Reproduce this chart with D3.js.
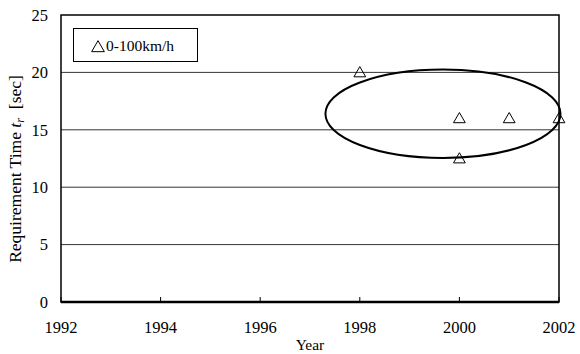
<!DOCTYPE html>
<html>
<head>
<meta charset="utf-8">
<script src="https://cdn.jsdelivr.net/npm/d3@7"></script>
<style>
  body { margin: 0; background: #fff; }
  text { font-family: "Liberation Serif", "Times New Roman", serif; fill: #000; }
</style>
</head>
<body>
<div id="chart"></div>
<script>
// data
const years = [1998, 2000, 2001, 2002, 2000];
const times = [20, 16, 16, 16, 12.5];
const xTicks = [1992, 1994, 1996, 1998, 2000, 2002];
const yTicks = [0, 5, 10, 15, 20, 25];
const legendLabel = "0-100km/h";
// highlighted group (ellipse): center year, center value, half-width in years, half-height in sec
const ellipse = [1999.67, 16.4, 2.36, 3.85];

const width = 580, height = 354;
const margin = { left: 61, right: 21, top: 15, bottom: 52 };

const svg = d3.select("#chart").append("svg")
  .attr("width", width)
  .attr("height", height);

const x = d3.scaleLinear().domain([1992, 2002]).range([margin.left, width - margin.right]);
const y = d3.scaleLinear().domain([0, 25]).range([height - margin.bottom, margin.top]);

// gridlines
svg.append("g")
  .selectAll("line")
  .data(yTicks.filter(d => d > 0 && d < 25))
  .join("line")
  .attr("x1", x(1992)).attr("x2", x(2002))
  .attr("y1", d => y(d)).attr("y2", d => y(d))
  .attr("stroke", "#000")
  .attr("stroke-width", 0.8);

// frame
svg.append("rect")
  .attr("x", x(1992)).attr("y", y(25))
  .attr("width", x(2002) - x(1992))
  .attr("height", y(0) - y(25))
  .attr("fill", "none")
  .attr("stroke", "#000")
  .attr("stroke-width", 1.5);
svg.append("line")
  .attr("x1", x(1992)).attr("x2", x(2002))
  .attr("y1", y(0)).attr("y2", y(0))
  .attr("stroke", "#000").attr("stroke-width", 2.5);

// x axis ticks (inside)
svg.append("g")
  .selectAll("line")
  .data(xTicks)
  .join("line")
  .attr("x1", d => x(d)).attr("x2", d => x(d))
  .attr("y1", y(0)).attr("y2", y(0) - 5)
  .attr("stroke", "#000");

svg.append("g")
  .selectAll("text")
  .data(xTicks)
  .join("text")
  .attr("x", d => x(d))
  .attr("y", y(0) + 31)
  .attr("text-anchor", "middle")
  .attr("font-size", 16.5)
  .text(d => d);

// y axis labels
svg.append("g")
  .selectAll("text")
  .data(yTicks)
  .join("text")
  .attr("x", x(1992) - 13)
  .attr("y", d => y(d))
  .attr("dy", "0.35em")
  .attr("text-anchor", "end")
  .attr("font-size", 16.5)
  .text(d => d);

// axis titles
svg.append("text")
  .attr("x", (x(1992) + x(2002)) / 2)
  .attr("y", height - 4)
  .attr("text-anchor", "middle")
  .attr("font-size", 15.5)
  .text("Year");

const yt = svg.append("text")
  .attr("transform", `translate(21,169) rotate(-90)`)
  .attr("text-anchor", "middle")
  .attr("font-size", 17.5);
yt.append("tspan").text("Requirement Time ");
yt.append("tspan").attr("font-style", "italic").text("t");
yt.append("tspan").attr("font-style", "italic").attr("font-size", 12).attr("dy", 3).text("r");
yt.append("tspan").attr("dy", -3).attr("dx", 9).text("[sec]");

// ellipse
svg.append("ellipse")
  .attr("cx", x(ellipse[0]))
  .attr("cy", y(ellipse[1]))
  .attr("rx", x(1992 + ellipse[2]) - x(1992))
  .attr("ry", y(0) - y(ellipse[3]))
  .attr("fill", "none")
  .attr("stroke", "#000")
  .attr("stroke-width", 2);

// points
const tri = d3.symbol().type(d3.symbolTriangle).size(60);
svg.append("g")
  .selectAll("path")
  .data(years.map((d, i) => [d, times[i]]))
  .join("path")
  .attr("d", tri)
  .attr("transform", d => `translate(${x(d[0])},${y(d[1]) + 1})`)
  .attr("fill", "none")
  .attr("stroke", "#000")
  .attr("stroke-width", 1);

// legend
const lg = svg.append("g");
lg.append("rect")
  .attr("x", 73.5).attr("y", 28.5)
  .attr("width", 124).attr("height", 33)
  .attr("fill", "#fff")
  .attr("stroke", "#000");
lg.append("path")
  .attr("d", d3.symbol().type(d3.symbolTriangle).size(70))
  .attr("transform", "translate(98,48)")
  .attr("fill", "none")
  .attr("stroke", "#000");
lg.append("text")
  .attr("x", 106)
  .attr("y", 51)
  .attr("font-size", 15.5)
  .text(legendLabel);
</script>
</body>
</html>
